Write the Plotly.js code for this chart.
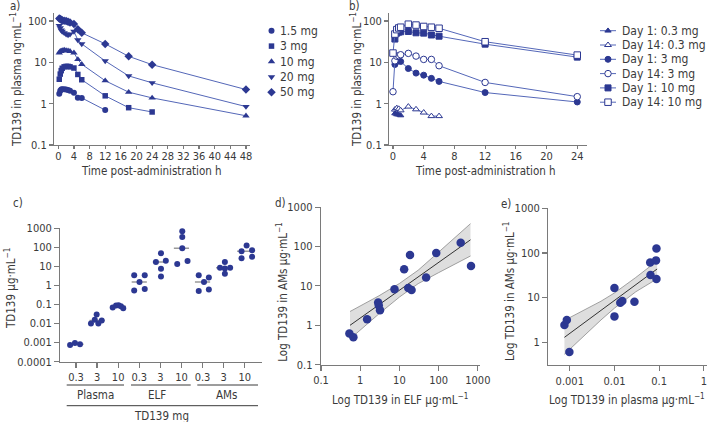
<!DOCTYPE html>
<html>
<head>
<meta charset="utf-8">
<script src="https://cdn.plot.ly/plotly-3.0.1.min.js"></script>
<style>
  html, body { margin: 0; padding: 0; background: #fff; }
  #chart { width: 708px; height: 422px; }
</style>
</head>
<body>
<div id="chart"></div>
<script>
/* ===================== DATA ===================== */

// -------- panel a: single ascending dose, plasma ng/mL --------
const timesA = [0.25, 0.5, 0.75, 1, 1.5, 2, 2.5, 3, 4, 5, 6, 12, 18, 24, 48];
const dosesA = ['1.5 mg', '3 mg', '10 mg', '20 mg', '50 mg'];
const dose1p5 = [1.75, 2.05, 2.2, 2.25, 2.25, 2.2, 2.15, 2.05, 1.85, 1.4, 1.38, 0.7, null, null, null];
const dose3 = [3.9, 5.2, 6.3, 7.2, 7.8, 8.0, 8.0, 7.8, 7.3, 5.1, 3.8, 1.55, 0.8, 0.63, null];
const dose10 = [17, 18.5, 18.5, 19.5, 20, 19.5, 19, 18.5, 17, 11.8, 9.0, 3.6, 1.9, 1.38, 0.51];
const dose20 = [78, 68, 60, 56, 52, 48, 46, 48, 56, 35, 28, 10.8, 4.7, 3.2, 0.85];
const dose50 = [115, 112, 108, 105, 102, 100, 96, 92, 85, 63, 52, 28, 14, 8.8, 2.2];

// -------- panel b: repeat dose, day 1 vs day 14 --------
const timesB = [0, 0.25, 0.5, 0.75, 1, 2, 3, 4, 5, 6, 12, 24];
const seriesB = ['Day 1: 0.3 mg', 'Day 14: 0.3 mg', 'Day 1: 3 mg', 'Day 14: 3 mg', 'Day 1: 10 mg', 'Day 14: 10 mg'];
const day1Low = [null, 0.58, 0.55, 0.54, 0.52, null, null, null, null, null, null, null];
const day14Low = [null, 0.72, 0.78, 0.75, 0.69, 0.85, 0.73, 0.61, 0.5, 0.5, null, null];
const day1Mid = [null, 8.9, 10.6, 11, 10.5, 7.1, 5.5, 4.9, 4.1, 3.46, 1.86, 1.1];
const day14Mid = [1.95, 10.9, 14, 14.5, 15.3, 16.5, 14.2, 11.8, 11.8, 8.3, 3.27, 1.48];
const day1High = [null, 36.7, 51, 54, 55, 56, 52, 51, 46, 43, 27.6, 13.4];
const day14High = [16.8, 48.5, 62, 68, 71, 84, 80, 74, 71, 67, 31.6, 15];

// -------- panel c: TD139 by compartment and dose, ug/mL --------
const doseTicksC = ['0.3', '3', '10', '0.3', '3', '10', '0.3', '3', '10'];
const compartmentsC = ['Plasma', 'ELF', 'AMs'];
const plasma03 = [0.00075, 0.00095, 0.00082];
const plasma3 = [0.010, 0.016, 0.030, 0.010, 0.0145];
const plasma10 = [0.069, 0.089, 0.092, 0.081, 0.064];
const elf03 = [3.4, 3.4, 1.5, 0.54, 0.66];
const elf3 = [49, 17, 20, 7.6, 3.0];
const elf10 = [700, 350, 89, 13.5, 19.5];
const ams03 = [3.4, 2.65, 1.5, 0.52, 0.61];
const ams3 = [17, 8.5, 7.8, 8.5, 4.1];
const ams10 = [125, 63, 27, 70, 32];
// horizontal spread of the dots inside each group (category units)
const spreadC = [
  [-0.28, -0.05, 0.19],
  [-0.29, -0.11, -0.02, 0.06, 0.22],
  [-0.26, -0.1, 0.02, 0.13, 0.24],
  [-0.24, 0.26, 0.01, -0.24, 0.26],
  [0.03, -0.21, 0.26, 0.03, 0.03],
  [0.04, 0.04, 0.04, -0.2, 0.29],
  [-0.18, 0.3, 0.07, -0.18, 0.3],
  [0.06, -0.17, 0.06, 0.31, 0.06],
  [0.09, -0.15, -0.15, 0.35, 0.35]
];

// -------- panel d: AMs vs ELF --------
const elfD = [0.53, 0.67, 1.5, 2.87, 2.98, 3.2, 7.5, 13.2, 16.8, 18.6, 20.4, 48, 87, 365, 670];
const amsD = [0.62, 0.50, 1.42, 3.77, 3.2, 2.4, 8.2, 26.5, 8.9, 61, 7.9, 16.3, 68, 124, 31.8];
const fitXD = [0.55, 1, 3, 10, 30, 100, 650];
const fitYD = [1.0, 1.53, 3.31, 7.8, 16.9, 39.5, 148];
const bandHiD = [2.24, 3.05, 5.6, 11.5, 25, 72, 380];
const bandLoD = [0.45, 0.77, 1.95, 5.2, 11.4, 21.7, 57.5];

// -------- panel e: AMs vs plasma --------
const plasmaE = [0.00076, 0.00086, 0.00098, 0.010, 0.010, 0.0135, 0.015, 0.028, 0.063, 0.064, 0.085, 0.087, 0.087];
const amsE = [2.44, 3.16, 0.61, 16.4, 3.8, 7.7, 8.4, 8.1, 61, 32, 68, 125, 26];
const fitXE = [0.00076, 0.002, 0.005, 0.01, 0.03, 0.09];
const fitYE = [1.29, 2.63, 5.1, 8.6, 19.5, 43.7];
const bandHiE = [3.09, 5.1, 8.3, 12.7, 28.2, 66];
const bandLoE = [0.54, 1.35, 3.16, 5.8, 13.5, 26.3];

/* ===================== STYLE ===================== */
const W = 708, H = 422;
const FONT = '"Liberation Sans Narrow", "DejaVu Sans Condensed", Roboto, sans-serif';
const DOT = '#2c3892';      // marker blue
const LINE = '#5467b8';     // connecting lines
const AXIS = '#7a7a7a';
const TXT = '#3a3a3a';

// pixel -> paper helpers (margins are zero)
const px = v => v / W;
const py = v => 1 - v / H;

const traces = [];

// -------- panel a traces --------
const symbolsA = ['circle', 'square', 'triangle-up', 'triangle-down', 'diamond'];
const sizesA = [6, 5.5, 6.5, 6.5, 6.5];
[dose1p5, dose3, dose10, dose20, dose50].forEach((ys, i) => {
  traces.push({
    x: timesA, y: ys, xaxis: 'x', yaxis: 'y', mode: 'lines+markers', name: dosesA[i],
    line: { color: LINE, width: 1 },
    marker: { symbol: symbolsA[i], size: sizesA[i], color: DOT },
    cliponaxis: false
  });
});

// -------- panel b traces --------
const symbolsB = ['triangle-up', 'triangle-up', 'circle', 'circle', 'square', 'square'];
const sizesB = [5.5, 6, 6, 6.5, 6, 6.5];
const openB = [false, true, false, true, false, true];
[day1Low, day14Low, day1Mid, day14Mid, day1High, day14High].forEach((ys, i) => {
  traces.push({
    x: timesB, y: ys, xaxis: 'x2', yaxis: 'y2', mode: 'lines+markers', name: seriesB[i],
    line: { color: LINE, width: 1 },
    marker: {
      symbol: symbolsB[i], size: sizesB[i],
      color: openB[i] ? '#fff' : DOT,
      line: { color: DOT, width: 1 }
    },
    cliponaxis: false
  });
});

// -------- panel c traces --------
const groupsC = [plasma03, plasma3, plasma10, elf03, elf3, elf10, ams03, ams3, ams10];
const median = arr => {
  const s = [...arr].sort((a, b) => a - b);
  const m = Math.floor(s.length / 2);
  return s.length % 2 ? s[m] : (s[m - 1] + s[m]) / 2;
};
groupsC.forEach((vals, g) => {
  const m = median(vals);
  traces.push({
    x: [g - 0.36, g + 0.36], y: [m, m], xaxis: 'x3', yaxis: 'y3', mode: 'lines',
    line: { color: '#9a9a9a', width: 1.5 }, hoverinfo: 'skip'
  });
});
groupsC.forEach((vals, g) => {
  traces.push({
    x: vals.map((v, k) => g + spreadC[g][k]), y: vals, xaxis: 'x3', yaxis: 'y3', mode: 'markers',
    marker: { size: 6, color: DOT }, cliponaxis: false
  });
});

// -------- panel d/e: confidence band, fit, points --------
function addScatterPanel(xa, ya, fx, fy, lo, hi, xs, ys) {
  traces.push({ x: fx, y: lo, xaxis: xa, yaxis: ya, mode: 'lines', line: { color: '#8c8c8c', width: 0.8 }, hoverinfo: 'skip' });
  traces.push({ x: fx, y: hi, xaxis: xa, yaxis: ya, mode: 'lines', fill: 'tonexty', fillcolor: 'rgba(200,200,200,0.6)', line: { color: '#8c8c8c', width: 0.8 }, hoverinfo: 'skip' });
  traces.push({ x: [fx[0], fx[fx.length - 1]], y: [fy[0], fy[fy.length - 1]], xaxis: xa, yaxis: ya, mode: 'lines', line: { color: '#333', width: 1 } });
  traces.push({ x: xs, y: ys, xaxis: xa, yaxis: ya, mode: 'markers', marker: { size: 8.5, color: DOT }, cliponaxis: false });
}
addScatterPanel('x4', 'y4', fitXD, fitYD, bandLoD, bandHiD, elfD, amsD);
addScatterPanel('x5', 'y5', fitXE, fitYE, bandLoE, bandHiE, plasmaE, amsE);

// -------- hand-built legends (overlay axis in pixel units) --------
const legA = { mx: 271.5, tx: 278, y0: 30.7, dy: 15.4 };
dosesA.forEach((name, i) => {
  traces.push({
    x: [legA.mx], y: [legA.y0 + legA.dy * i], xaxis: 'x6', yaxis: 'y6', mode: 'markers',
    marker: { symbol: symbolsA[i], size: sizesA[i], color: DOT }, cliponaxis: false
  });
});
const legB = { x0: 600, x1: 616, tx: 620, y0: 30.7, dy: 14.3 };
seriesB.forEach((name, i) => {
  const yy = legB.y0 + legB.dy * i;
  traces.push({
    x: [legB.x0, legB.x1], y: [yy, yy], xaxis: 'x6', yaxis: 'y6', mode: 'lines',
    line: { color: LINE, width: 1 }, cliponaxis: false
  });
  traces.push({
    x: [(legB.x0 + legB.x1) / 2], y: [yy], xaxis: 'x6', yaxis: 'y6', mode: 'markers',
    marker: { symbol: symbolsB[i], size: sizesB[i], color: openB[i] ? '#fff' : DOT, line: { color: DOT, width: 1 } },
    cliponaxis: false
  });
});

/* ===================== AXES ===================== */
const baseAxis = {
  showgrid: false, zeroline: false, showline: true, linecolor: AXIS, linewidth: 1.3,
  ticks: 'outside', ticklen: 4, tickcolor: AXIS, tickwidth: 1.2,
  tickfont: { family: FONT, size: 11, color: TXT }, fixedrange: true
};
const logTicks = (vals, txt) => ({ type: 'log', tickmode: 'array', tickvals: vals, ticktext: txt });

const layout = {
  width: W, height: H, margin: { l: 0, r: 0, t: 0, b: 0 },
  paper_bgcolor: '#fff', plot_bgcolor: 'rgba(0,0,0,0)', showlegend: false,
  font: { family: FONT, size: 12, color: TXT },

  // a
  xaxis: Object.assign({}, baseAxis, { domain: [px(54.3), px(250)], range: [-1.02, 49.03], tickmode: 'linear', tick0: 0, dtick: 4, ticklen: 3, ticklabelstandoff: -3, anchor: 'y' }),
  yaxis: Object.assign({}, baseAxis, logTicks([0.1, 1, 10, 100], ['0.1', '1', '10', '100']), { domain: [py(145), py(12.8)], range: [-1, 2.2], anchor: 'x' }),
  // b
  xaxis2: Object.assign({}, baseAxis, { domain: [px(389.3), px(586.7)], range: [-0.48, 25.23], tickmode: 'linear', tick0: 0, dtick: 4, ticklen: 3, ticklabelstandoff: -3, anchor: 'y2' }),
  yaxis2: Object.assign({}, baseAxis, logTicks([0.1, 1, 10, 100], ['0.1', '1', '10', '100']), { domain: [py(145), py(12.8)], range: [-1, 2.2], anchor: 'x2' }),
  // c
  xaxis3: Object.assign({}, baseAxis, { domain: [px(60.3), px(262)], range: [-0.744, 8.82], tickmode: 'array', tickvals: doseTicksC.map((t, i) => i), ticktext: doseTicksC, ticklen: 5, anchor: 'y3' }),
  yaxis3: Object.assign({}, baseAxis, logTicks([0.0001, 0.001, 0.01, 0.1, 1, 10, 100, 1000], ['0.0001', '0.001', '0.01', '0.1', '1', '10', '100', '1000']), { domain: [py(361.7), py(228.3)], range: [-4, 3], ticklen: 5, anchor: 'x3' }),
  // d
  xaxis4: Object.assign({}, baseAxis, logTicks([0.1, 1, 10, 100, 1000], ['0.1', '1', '10', '100', '1000']), { domain: [px(321), px(479.8)], range: [-1, 3.05], ticklen: 5, anchor: 'y4' }),
  yaxis4: Object.assign({}, baseAxis, logTicks([0.1, 1, 10, 100, 1000], ['0.1', '1', '10', '100', '1000']), { domain: [py(364.7), py(207.1)], range: [-1, 3], ticklen: 5, anchor: 'x4' }),
  // e
  xaxis5: Object.assign({}, baseAxis, logTicks([0.001, 0.01, 0.1, 1], ['0.001', '0.01', '0.1', '1']), { domain: [px(548.3), px(707)], range: [-3.48, 0.07], ticklen: 5, anchor: 'y5' }),
  yaxis5: Object.assign({}, baseAxis, logTicks([1, 10, 100, 1000], ['1', '10', '100', '1000']), { domain: [py(365), py(208.2)], range: [-0.508, 3], ticklen: 5, anchor: 'x5' }),
  // overlay in pixel units for legends
  xaxis6: { domain: [0, 1], range: [0, W], visible: false, fixedrange: true, anchor: 'y6' },
  yaxis6: { domain: [0, 1], range: [H, 0], visible: false, fixedrange: true, anchor: 'x6' },

  shapes: [],
  annotations: []
};

// -------- text: titles, panel letters, legends --------
const ann = (text, x, y, opts) => Object.assign({
  text: text, x: px(x), y: py(y), xref: 'paper', yref: 'paper', showarrow: false,
  xanchor: 'center', yanchor: 'middle', font: { family: FONT, size: 11.5, color: TXT }
}, opts || {});
const unitNg = 'ng·mL<sup>−1</sup>';
const unitUg = 'µg·mL<sup>−1</sup>';

layout.annotations.push(
  ann('a)', 15, 6), ann('b)', 355, 6), ann('c)', 18, 203), ann('d)', 280, 203), ann('e)', 505.5, 203.5),
  ann('Time post-administration h', 151.7, 170.7),
  ann('Time post-administration h', 486, 170.7),
  ann('TD139 in plasma ' + unitNg, 17, 80, { textangle: -90 }),
  ann('TD139 in plasma ' + unitNg, 357, 80, { textangle: -90 }),
  ann('TD139 ' + unitUg, 10, 289, { textangle: -90 }),
  ann('Log TD139 in AMs ' + unitUg, 281.7, 292, { textangle: -90 }),
  ann('Log TD139 in AMs ' + unitUg, 509, 292, { textangle: -90 }),
  ann('Log TD139 in ELF ' + unitUg, 400, 399.3),
  ann('Log TD139 in plasma ' + unitUg, 626.7, 399.3),
  ann(compartmentsC[0], 95.5, 395), ann(compartmentsC[1], 157, 395), ann(compartmentsC[2], 226, 395),
  ann('TD139 mg', 161, 416)
);
dosesA.forEach((name, i) => layout.annotations.push(ann(name, legA.tx, legA.y0 + legA.dy * i, { xanchor: 'left', font: { family: FONT, size: 12, color: TXT } })));
seriesB.forEach((name, i) => layout.annotations.push(ann(name, legB.tx, legB.y0 + legB.dy * i, { xanchor: 'left', font: { family: FONT, size: 12, color: TXT } })));

// group brackets under panel c
const hline = (x0, x1, y) => ({ type: 'line', xref: 'paper', yref: 'paper', x0: px(x0), x1: px(x1), y0: py(y), y1: py(y), line: { color: TXT, width: 1 } });
layout.shapes.push(hline(66.7, 124, 385), hline(131, 190.7, 385), hline(197.3, 258, 385), hline(66.7, 258, 405.7));

Plotly.newPlot('chart', traces, layout, { displayModeBar: false, staticPlot: true });
</script>
</body>
</html>
